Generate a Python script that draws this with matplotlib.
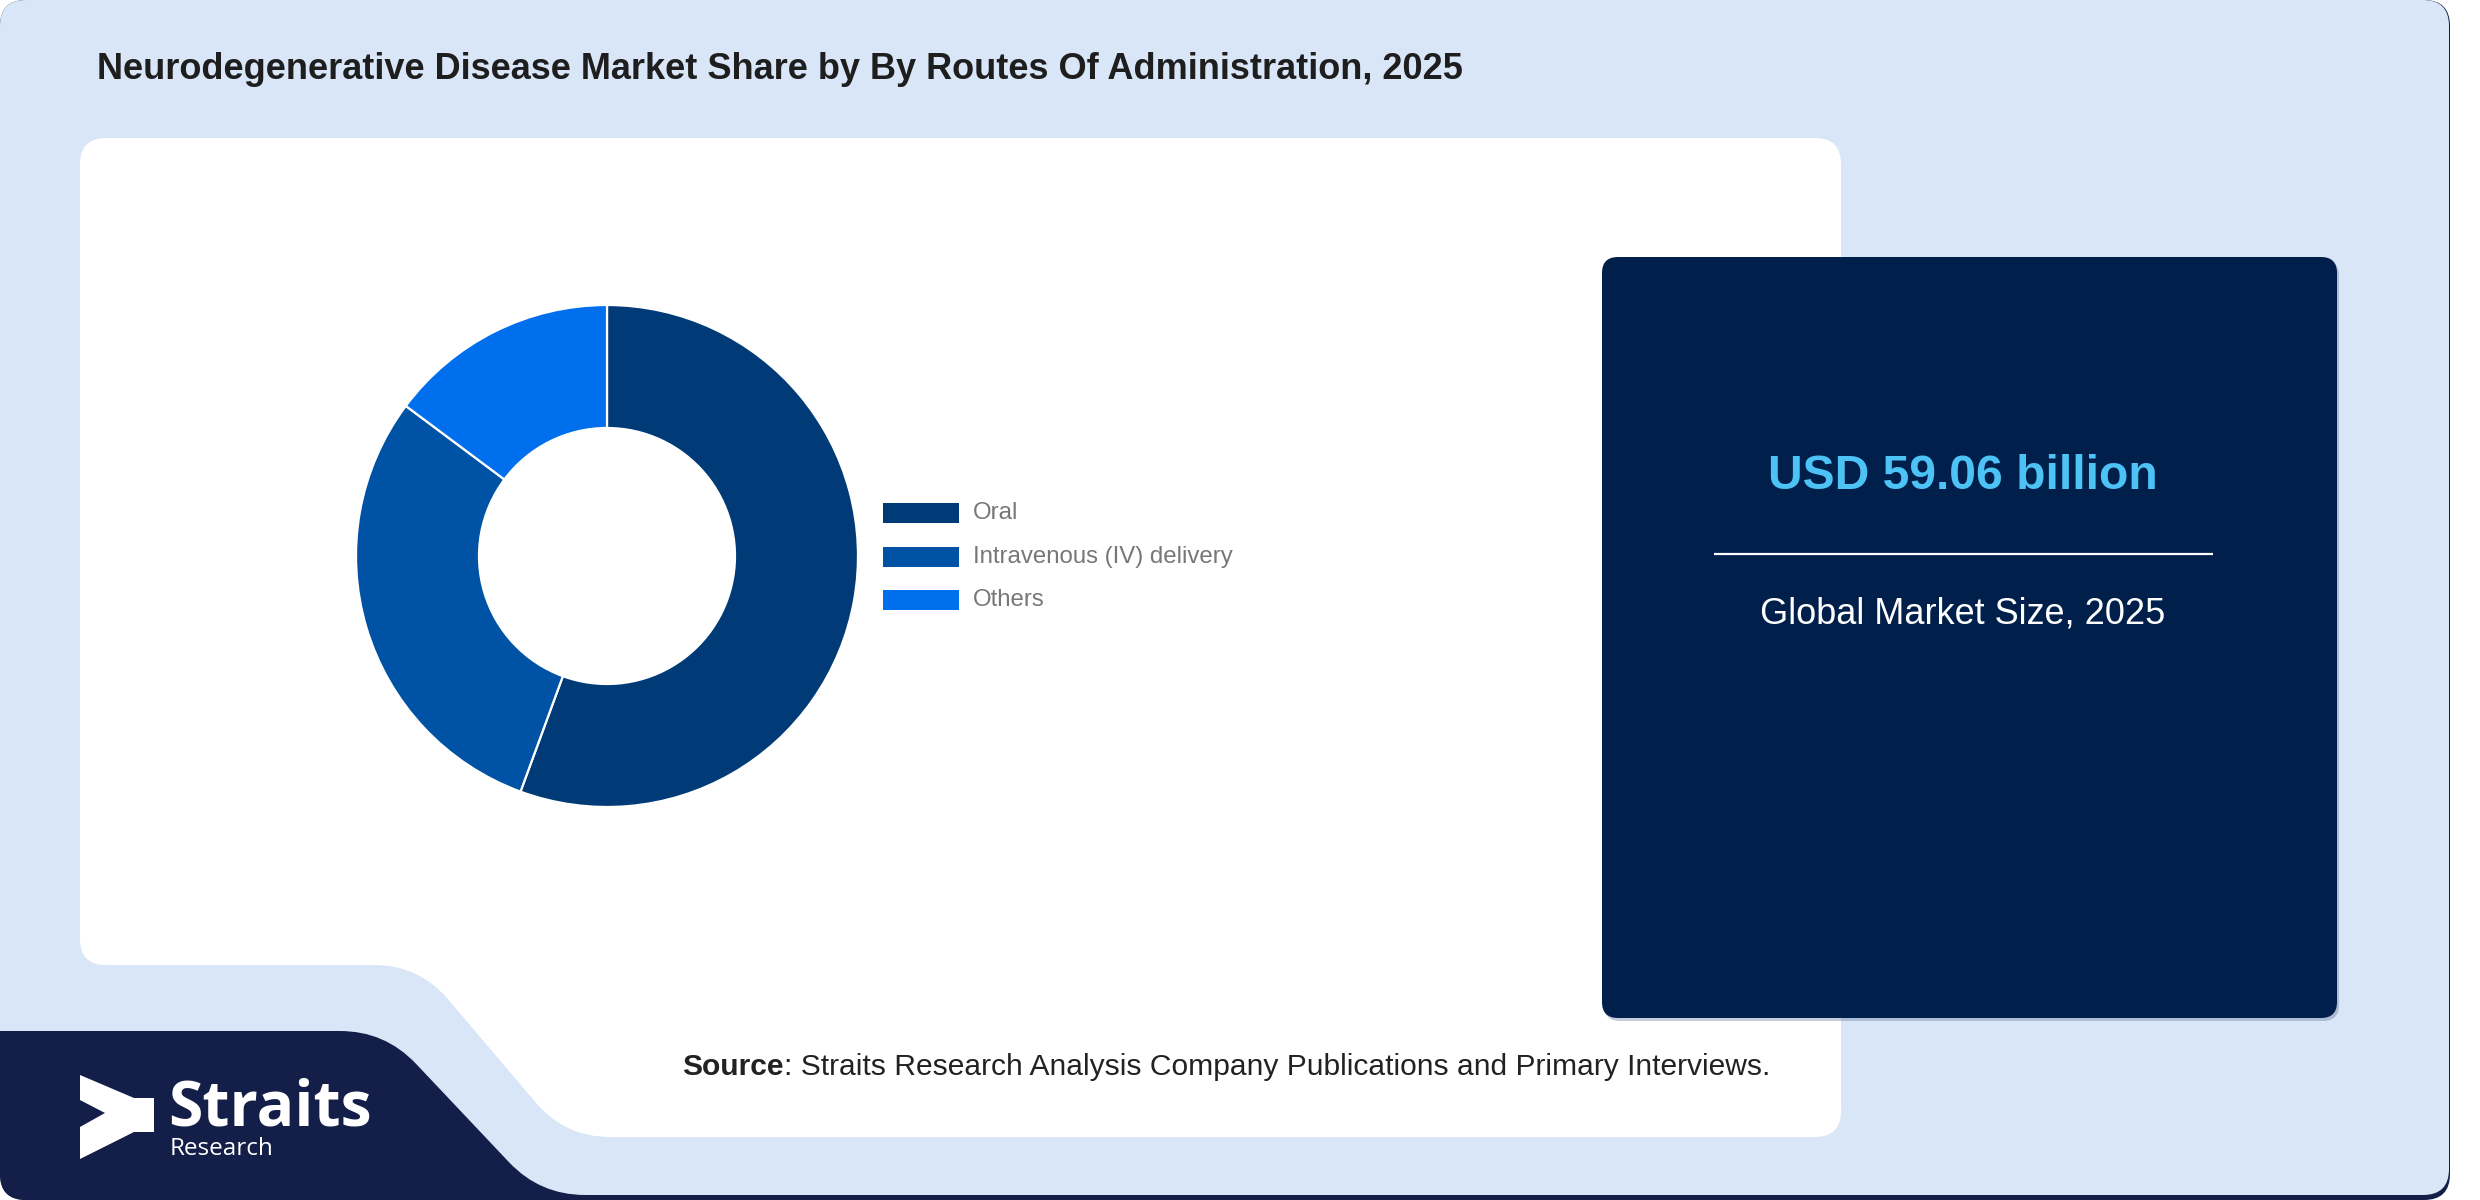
import matplotlib
matplotlib.use("Agg")
import matplotlib.pyplot as plt
from matplotlib.patches import FancyBboxPatch, PathPatch, Polygon, Rectangle
from matplotlib.path import Path
import numpy as np

# ---------------- data ----------------
title = "Neurodegenerative Disease Market Share by By Routes Of Administration, 2025"
categories = ["Oral", "Intravenous (IV) delivery", "Others"]
shares = [55.6, 29.6, 14.8]
colors = ["#003b77", "#0053a4", "#006fee"]
market_value = "USD 59.06 billion"
market_label = "Global Market Size, 2025"
source_bold = "Source"
source_rest = ": Straits Research Analysis Company Publications and Primary Interviews."

W, H = 2480, 1200
FONT = ["Liberation Sans", "DejaVu Sans"]
LOGO_FONT = ["Open Sans", "DejaVu Sans"]

fig = plt.figure(figsize=(W / 100, H / 100), dpi=100, facecolor="white")
bg = fig.add_axes([0, 0, 1, 1])
bg.set_xlim(0, W)
bg.set_ylim(H, 0)
bg.axis("off")


def rounded_path(pts, r):
    pts = [np.array(p, float) for p in pts]
    n = len(pts)
    verts, codes = [], []
    for i in range(n):
        p0, p1, p2 = pts[i - 1], pts[i], pts[(i + 1) % n]
        d0 = p0 - p1
        d2 = p2 - p1
        l0, l2 = np.hypot(*d0), np.hypot(*d2)
        rr = r[i] if isinstance(r, (list, tuple)) else r
        rr = min(rr, l0 / 2, l2 / 2)
        a = p1 + d0 / l0 * rr
        b = p1 + d2 / l2 * rr
        if i == 0:
            verts.append(a); codes.append(Path.MOVETO)
        else:
            verts.append(a); codes.append(Path.LINETO)
        verts += [p1, b]; codes += [Path.CURVE3, Path.CURVE3]
    verts.append(verts[0]); codes.append(Path.CLOSEPOLY)
    return Path(verts, codes)


NAVY_LOGO = "#131f48"
LIGHT = "#d9e6f8"
CARD = "#001f4a"

# base (navy shadow / bottom strip)
base = FancyBboxPatch((0, 0), 2450, 1200, boxstyle="round,pad=0,rounding_size=26",
                      facecolor=NAVY_LOGO, edgecolor="none", zorder=1)
bg.add_patch(base)
light = FancyBboxPatch((0, 0), 2449, 1195, boxstyle="round,pad=0,rounding_size=26",
                       facecolor=LIGHT, edgecolor="none", zorder=2)
bg.add_patch(light)

# navy logo band
logo_pts = [(-40, 1031), (385, 1031), (540, 1195), (900, 1195), (900, 1240), (-40, 1240)]
logo = PathPatch(rounded_path(logo_pts, [0, 45, 45, 0, 0, 0]), facecolor=NAVY_LOGO,
                 edgecolor="none", zorder=3)
bg.add_patch(logo)
logo.set_clip_path(base)

# white panel with notch
panel_pts = [(80, 138), (1841, 138), (1841, 1137), (565, 1137), (419, 965), (80, 965)]
panel = PathPatch(rounded_path(panel_pts, [26, 26, 26, 45, 45, 26]), facecolor="white",
                  edgecolor="none", zorder=4)
bg.add_patch(panel)

# dark card
shadow = FancyBboxPatch((1604, 260), 735, 761, boxstyle="round,pad=0,rounding_size=16",
                        facecolor="#5a6f92", edgecolor="none", alpha=0.35, zorder=5)
bg.add_patch(shadow)
card = FancyBboxPatch((1602, 257), 735, 761, boxstyle="round,pad=0,rounding_size=16",
                      facecolor=CARD, edgecolor="none", zorder=6)
bg.add_patch(card)

# title
bg.text(97, 79, title, fontsize=26, fontweight="bold", color="#1e1e1e",
        family=FONT, va="baseline", ha="left", zorder=10)

# card texts
cx = 1963
bg.text(cx, 489, market_value, fontsize=34.6, fontweight="bold", color="#4cc2f5",
        family=FONT, va="baseline", ha="center", zorder=10)
bg.plot([1714, 2213], [554, 554], color="white", lw=1.6, zorder=10, solid_capstyle="butt")
bg.text(cx, 623, market_label, fontsize=26, color="white",
        family=FONT, va="baseline", ha="center", zorder=10)

# source text
t1 = bg.text(682, 1075, source_bold, fontsize=21.6, fontweight="bold", color="#222222",
             family=FONT, va="baseline", ha="left", zorder=10)
fig.canvas.draw()
r = fig.canvas.get_renderer()
ext = t1.get_window_extent(r)
bg.text(682 + ext.width, 1075, source_rest, fontsize=21.6, color="#222222",
        family=FONT, va="baseline", ha="left", zorder=10)

# logo
arrow = [(80, 1075), (134, 1098), (154, 1098), (154, 1132), (134, 1132), (80, 1159),
         (80, 1127), (105, 1113), (80, 1100)]
bg.add_patch(Polygon(arrow, closed=True, facecolor="white", edgecolor="none", zorder=10))
bg.text(168, 1126, "Straits", fontsize=45, fontweight="bold", color="white",
        family=LOGO_FONT, va="baseline", ha="left", zorder=10)
bg.text(170, 1155, "Research", fontsize=17.5, color="white",
        family=LOGO_FONT, va="baseline", ha="left", zorder=10)

# donut
CX, CY, RO, RI = 607, 556, 251, 128
ax = fig.add_axes([(CX - RO) / W, (H - CY - RO) / H, 2 * RO / W, 2 * RO / H])
ax.pie(shares, colors=colors, startangle=90, counterclock=False, radius=1,
       wedgeprops=dict(width=(RO - RI) / RO, edgecolor="white", linewidth=1.6))
ax.set_xlim(-1, 1)
ax.set_ylim(-1, 1)
ax.set_aspect("equal")
ax.axis("off")
ax.set_zorder(20)

# legend
lx, ly0, dy = 883, 513, 43.5
for i, (cat, col) in enumerate(zip(categories, colors)):
    y = ly0 + i * dy
    bg.add_patch(Rectangle((lx, y - 10), 76, 20, facecolor=col, edgecolor="none", zorder=10))
    bg.text(973, y + 6, cat, fontsize=17.3, color="#777777", family=FONT,
            va="baseline", ha="left", zorder=10)

fig.savefig("out.png", dpi=100, facecolor="white")
